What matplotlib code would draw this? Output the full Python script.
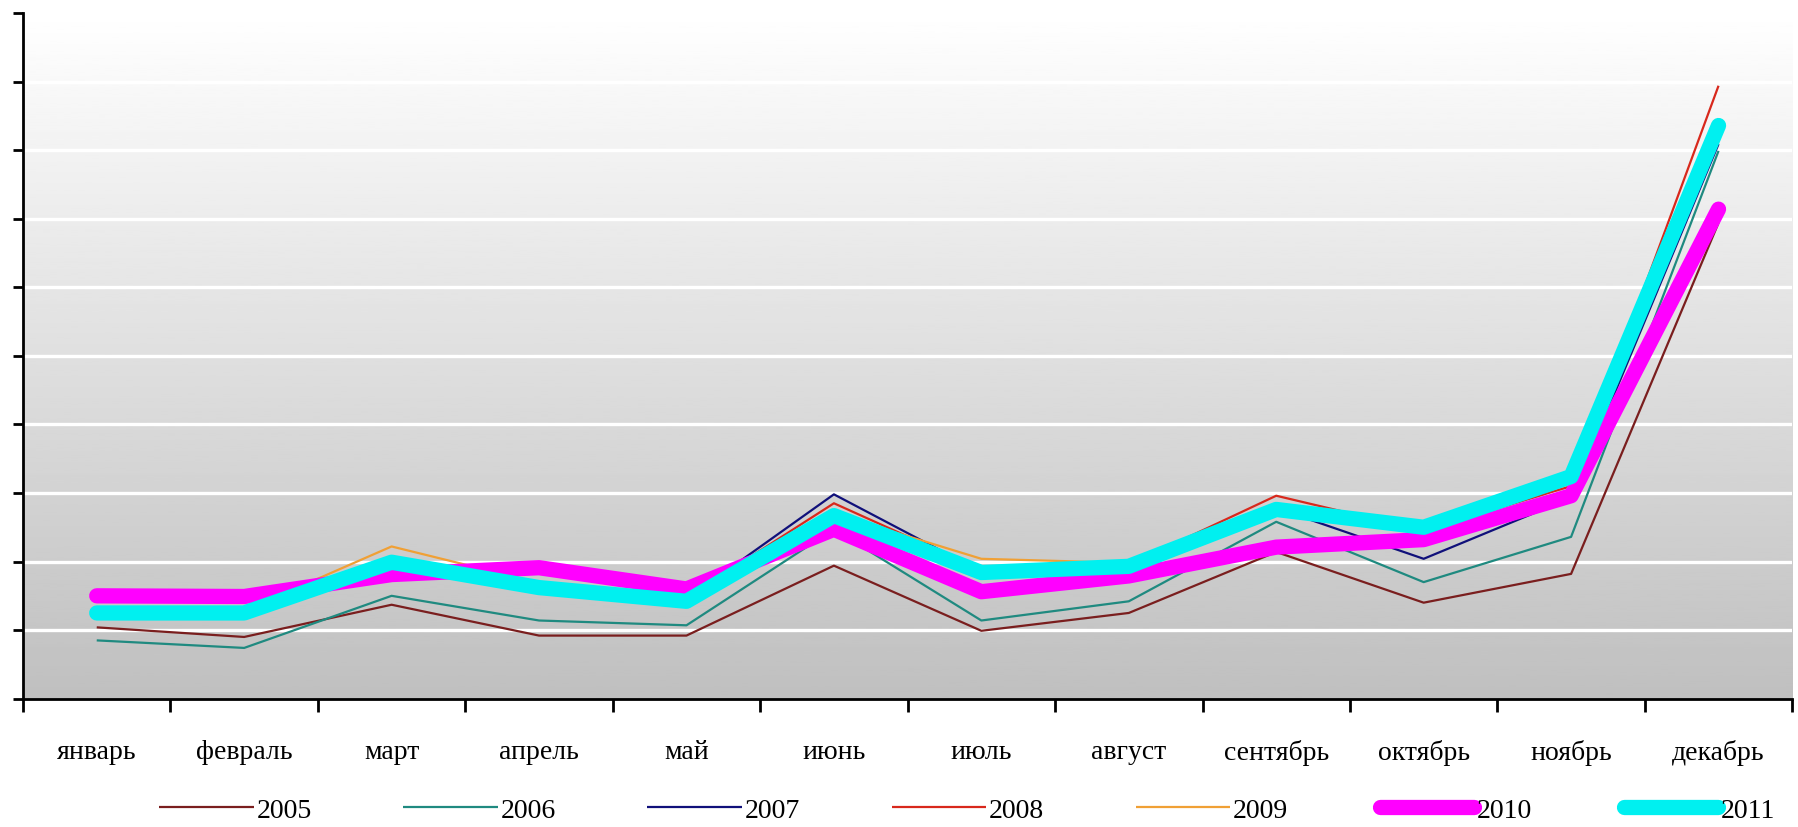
import numpy as np
import matplotlib
matplotlib.use("Agg")
import matplotlib.pyplot as plt

months = ["январь", "февраль", "март", "апрель", "май", "июнь",
          "июль", "август", "сентябрь", "октябрь", "ноябрь", "декабрь"]
years = ["2005", "2006", "2007", "2008", "2009", "2010", "2011"]

v2005 = [1.04, 0.90, 1.37, 0.92, 0.92, 1.94, 0.99, 1.25, 2.14, 1.40, 1.82, 6.94]
v2006 = [0.85, 0.74, 1.50, 1.14, 1.07, 2.47, 1.14, 1.42, 2.58, 1.70, 2.36, 7.99]
v2007 = [1.27, 1.25, 1.95, 1.60, 1.45, 2.98, 1.85, 1.95, 2.78, 2.04, 2.93, 8.09]
v2008 = [1.30, 1.27, 2.00, 1.62, 1.47, 2.85, 1.88, 1.95, 2.96, 2.45, 3.10, 8.94]
v2009 = [1.30, 1.28, 2.22, 1.69, 1.48, 2.70, 2.04, 1.98, 2.75, 2.50, 3.15, 8.40]
v2010 = [1.50, 1.49, 1.81, 1.91, 1.60, 2.47, 1.56, 1.79, 2.21, 2.32, 2.96, 7.14]
v2011 = [1.25, 1.25, 1.99, 1.62, 1.42, 2.67, 1.84, 1.93, 2.76, 2.50, 3.24, 8.36]

series = [v2005, v2006, v2007, v2008, v2009, v2010, v2011]
colors = ["#7a1e1e", "#1f8a80", "#10107a", "#d8281c", "#f0a035", "#ff00ff", "#00f0f0"]
widths = [1.6, 1.6, 1.6, 1.6, 1.6, 11, 11]

fig = plt.figure(figsize=(17.98, 8.28), dpi=100)
ax = fig.add_axes([0.0128, 0.155, 0.984, 0.828])

x = np.arange(len(months))

# background gradient
grad = np.linspace(0.75, 1.0, 256).reshape(-1, 1)
ax.imshow(grad, extent=[-0.5, 11.5, 0, 10], origin="lower", aspect="auto",
          cmap="gray", vmin=0, vmax=1, zorder=0)

for yv in range(1, 11):
    ax.axhline(yv, color="white", lw=2.4, zorder=1)

for vals, c, w, lab in zip(series, colors, widths, years):
    ax.plot(x, vals, color=c, lw=w, label=lab, zorder=3,
            solid_capstyle="round" if w > 5 else "butt",
            solid_joinstyle="round")

ax.set_xlim(-0.5, 11.5)
ax.set_ylim(0, 10)
ax.set_yticks(range(0, 11))
ax.set_yticklabels([])
ax.set_xticks(np.arange(-0.5, 12.0, 1.0))
ax.set_xticklabels([])
ax.set_xticks(x, minor=True)
ax.set_xticklabels(months, minor=True, fontfamily="Liberation Serif", fontsize=20)
ax.tick_params(axis="x", which="minor", length=0, pad=29)
ax.tick_params(axis="x", which="major", length=9, width=2, direction="out")
ax.tick_params(axis="y", which="major", length=7, width=2, direction="out")

for s in ["top", "right"]:
    ax.spines[s].set_visible(False)
for s in ["left", "bottom"]:
    ax.spines[s].set_linewidth(2)
    ax.spines[s].set_color("black")
    ax.spines[s].set_zorder(5)

leg = fig.legend(loc="center", bbox_to_anchor=(0.538, 0.020), ncol=7, frameon=False,
                 prop={"family": "Liberation Serif", "size": 20},
                 handlelength=3.4, handletextpad=0.1, columnspacing=3.3)

fig.savefig("out.png", dpi=100, facecolor="white")
